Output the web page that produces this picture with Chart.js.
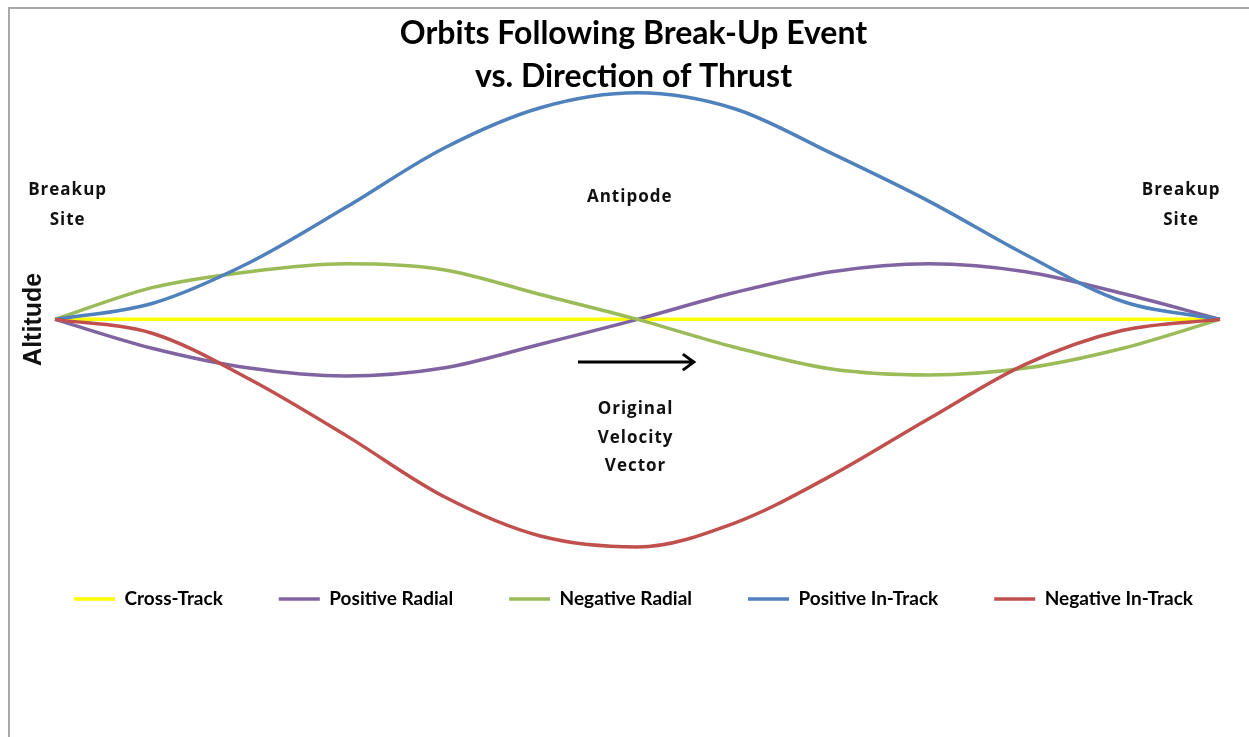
<!DOCTYPE html>
<html>
<head>
<meta charset="utf-8">
<script src="https://cdn.jsdelivr.net/npm/chart.js@4.4.1/dist/chart.umd.min.js"></script>
<style>
  html, body { margin: 0; padding: 0; background: #fff; overflow: hidden; }
  #wrap { position: absolute; left: 0; top: 0; width: 1249px; height: 737px; }
</style>
</head>
<body>
<div id="wrap"><canvas id="orbitChart"></canvas></div>
<script>
// argument of latitude after the break-up, degrees
const orbitSteps = ['0', '30', '60', '90', '120', '150', '180', '210', '240', '270', '300', '330', '360'];

// relative altitude for each thrust direction
const crossTrack      = [0, 0, 0, 0, 0, 0, 0, 0, 0, 0, 0, 0, 0];
const positiveRadial  = [0, -29, -49, -57, -49, -25, 0, 27, 48, 56, 48, 26, 0];
const negativeRadial  = [0, 32, 48, 56, 50, 25, 0, -28, -50, -56, -49, -29, 0];
const positiveInTrack = [0, 16, 57, 113, 172, 213, 228, 212, 167, 119, 65, 18, 0];
const negativeInTrack = [0, -14, -60, -117, -178, -218, -229, -205, -157, -100, -45, -11, 0];

function series(label, values, colour, order) {
  return {
    label: label,
    data: values,
    borderColor: colour,
    backgroundColor: colour,
    borderWidth: 3.5,
    pointRadius: 0,
    cubicInterpolationMode: 'monotone',
    clip: false,
    order: order
  };
}

// invisible side axes, they only reserve room around the plot
function blankAxis(position, width, extra) {
  return Object.assign({
    position: position,
    grid: { display: false },
    border: { display: false },
    ticks: { display: false },
    afterFit: (scale) => { scale.width = width; }
  }, extra);
}

// thin grey frame of the chart box (top and left edges)
const framePlugin = {
  id: 'frame',
  beforeDraw(chart) {
    const ctx = chart.ctx;
    ctx.save();
    ctx.strokeStyle = '#a9a9a9';
    ctx.lineWidth = 2;
    ctx.beginPath();
    ctx.moveTo(9, chart.height);
    ctx.lineTo(9, 8);
    ctx.lineTo(chart.width, 8);
    ctx.stroke();
    ctx.restore();
  }
};

// labels, arrow and axis title drawn on top of the lines
const notesPlugin = {
  id: 'orbitNotes',
  afterDatasetsDraw(chart) {
    const ctx = chart.ctx;
    const x = chart.scales.x;
    const y = chart.scales.y;
    ctx.save();
    ctx.fillStyle = '#111';
    ctx.textAlign = 'center';
    ctx.textBaseline = 'middle';
    ctx.font = 'bold 17px "Open Sans"';
    ctx.letterSpacing = '1px';

    function note(text, xv, yv) {
      ctx.fillText(text, x.getPixelForValue(xv), y.getPixelForValue(yv));
    }
    note('Breakup', 0.13, 130);
    note('Site', 0.13, 100);
    note('Breakup', 11.6, 130);
    note('Site', 11.6, 100);
    note('Antipode', 5.92, 123);
    note('Original', 5.98, -90);
    note('Velocity', 5.98, -120);
    note('Vector', 5.98, -148);

    // velocity arrow
    const x0 = x.getPixelForValue(5.387);
    const x1 = x.getPixelForValue(6.58);
    const ya = y.getPixelForValue(-43);
    ctx.strokeStyle = '#000';
    ctx.lineWidth = 3;
    ctx.beginPath();
    ctx.moveTo(x0, ya);
    ctx.lineTo(x1, ya);
    ctx.moveTo(x1 - 11, ya - 8);
    ctx.lineTo(x1, ya);
    ctx.lineTo(x1 - 11, ya + 8);
    ctx.stroke();

    // y axis title
    ctx.letterSpacing = '0px';
    ctx.font = 'bold 25px "Liberation Sans"';
    ctx.translate(chart.chartArea.left - 21, y.getPixelForValue(0));
    ctx.rotate(-Math.PI / 2);
    ctx.fillText('Altitude', 0, 0);
    ctx.restore();
  }
};

const ctx = document.getElementById('orbitChart');

new Chart(ctx, {
  type: 'line',
  data: {
    labels: orbitSteps,
    datasets: [
      series('Cross-Track', crossTrack, '#ffff00', 4),
      series('Positive Radial', positiveRadial, '#8064a2', 3),
      series('Negative Radial', negativeRadial, '#9bbb59', 2),
      series('Positive In-Track', positiveInTrack, '#4f81bd', 1),
      series('Negative In-Track', negativeInTrack, '#c0504d', 0)
    ]
  },
  options: {
    responsive: true,
    maintainAspectRatio: false,
    animation: false,
    layout: {
      padding: { left: 18, right: 0, top: 0, bottom: 118.5 }
    },
    scales: {
      x: { display: false },
      y: blankAxis('left', 37, { min: -215.5, max: 222 }),
      yRight: blankAxis('right', 29, {})
    },
    plugins: {
      title: {
        display: true,
        text: ['Orbits Following Break-Up Event', 'vs. Direction of Thrust'],
        color: '#000',
        font: { family: 'Lato', size: 32, weight: 'bold', lineHeight: 1.356 },
        padding: { top: 12, bottom: 0 }
      },
      legend: {
        position: 'bottom',
        labels: {
          color: '#000',
          font: { family: 'Lato', size: 19, weight: 'bold' },
          usePointStyle: true,
          pointStyle: 'line',
          pointStyleWidth: 41,
          padding: 56,
          sort: (a, b) => a.datasetIndex - b.datasetIndex
        }
      },
      tooltip: { enabled: false }
    }
  },
  plugins: [framePlugin, notesPlugin]
});
</script>
</body>
</html>
